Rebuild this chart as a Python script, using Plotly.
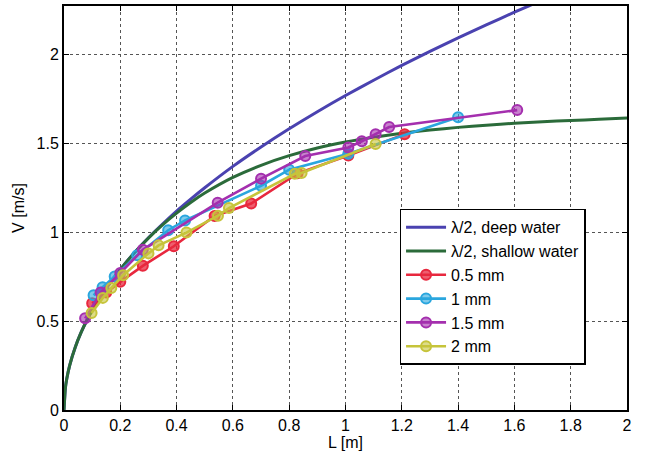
import plotly.graph_objects as go

# Theoretical half-wavelength speed curves
L_theory = [0, 0.005, 0.01, 0.02, 0.04, 0.06, 0.08, 0.1, 0.15, 0.2, 0.25, 0.3, 0.35,
            0.4, 0.45, 0.5, 0.6, 0.7, 0.8, 0.9, 1.0, 1.1, 1.2, 1.3, 1.4, 1.5, 1.6,
            1.7, 1.8, 1.9, 2.0]
V_deep = [0, 0.125, 0.177, 0.250, 0.353, 0.433, 0.500, 0.559, 0.684, 0.790, 0.884,
          0.968, 1.045, 1.118, 1.185, 1.249, 1.369, 1.478, 1.580, 1.676, 1.767,
          1.853, 1.936, 2.015, 2.091, 2.164, 2.235, 2.304, 2.371, 2.436, 2.499]
V_shallow = [0, 0.125, 0.177, 0.250, 0.353, 0.433, 0.500, 0.559, 0.684, 0.790, 0.883,
             0.966, 1.040, 1.106, 1.166, 1.219, 1.307, 1.375, 1.429, 1.472, 1.506,
             1.533, 1.555, 1.573, 1.588, 1.600, 1.611, 1.620, 1.627, 1.633, 1.640]

# Measured speeds for each wire diameter
L_05 = [0.10, 0.15, 0.20, 0.28, 0.39, 0.535, 0.665, 0.83, 1.01, 1.21]
V_05 = [0.60, 0.66, 0.72, 0.81, 0.92, 1.09, 1.16, 1.33, 1.43, 1.55]

L_10 = [0.105, 0.137, 0.18, 0.26, 0.37, 0.43, 0.70, 0.80, 1.01, 1.40]
V_10 = [0.645, 0.69, 0.75, 0.87, 1.01, 1.065, 1.26, 1.35, 1.44, 1.645]

L_15 = [0.075, 0.13, 0.20, 0.28, 0.546, 0.70, 0.857, 1.01, 1.058, 1.107, 1.155, 1.61]
V_15 = [0.515, 0.66, 0.77, 0.90, 1.165, 1.30, 1.427, 1.475, 1.51, 1.55, 1.59, 1.685]

L_20 = [0.098, 0.138, 0.168, 0.21, 0.30, 0.336, 0.435, 0.547, 0.586, 0.82, 0.844, 1.107]
V_20 = [0.545, 0.63, 0.685, 0.757, 0.88, 0.925, 0.997, 1.092, 1.135, 1.327, 1.332, 1.495]

x_ticks = [0, 0.2, 0.4, 0.6, 0.8, 1, 1.2, 1.4, 1.6, 1.8, 2]
x_labels = ["0", "0.2", "0.4", "0.6", "0.8", "1", "1.2", "1.4", "1.6", "1.8", "2"]
y_ticks = [0, 0.5, 1, 1.5, 2]
y_labels = ["0", "0.5", "1", "1.5", "2"]

FONT = "Liberation Sans, Arial, sans-serif"

fig = go.Figure()

fig.add_trace(go.Scatter(
    x=L_theory, y=V_deep, mode="lines", name="λ/2, deep water",
    line=dict(color="#4a42b0", width=3, shape="spline", smoothing=0.6),
))
fig.add_trace(go.Scatter(
    x=L_theory, y=V_shallow, mode="lines", name="λ/2, shallow water",
    line=dict(color="#2b6b3a", width=3, shape="spline", smoothing=0.6),
))

series = [
    ("0.5 mm", L_05, V_05, "#e8283e", "rgba(232,40,62,0.75)"),
    ("1 mm", L_10, V_10, "#2aa6de", "rgba(42,166,222,0.6)"),
    ("1.5 mm", L_15, V_15, "#a42fae", "rgba(164,47,174,0.6)"),
    ("2 mm", L_20, V_20, "#c6c43a", "rgba(198,196,58,0.6)"),
]
for name, xs, ys, col, fill in series:
    fig.add_trace(go.Scatter(
        x=xs, y=ys, mode="lines+markers", name=name,
        line=dict(color=col, width=2.6),
        marker=dict(size=10, color=fill, line=dict(color=col, width=2)),
    ))

axis_common = dict(
    showline=True, linecolor="black", linewidth=2, mirror="ticks",
    ticks="inside", ticklen=5, tickcolor="black", tickwidth=1,
    showgrid=True, gridcolor="#555555", gridwidth=1, griddash="dot",
    zeroline=False,
    tickfont=dict(family=FONT, size=16, color="black"),
)

fig.update_xaxes(
    range=[0, 2], tickvals=x_ticks, ticktext=x_labels,
    title=dict(text="L [m]", font=dict(family=FONT, size=16, color="black"), standoff=4),
    **axis_common,
)
fig.update_yaxes(
    range=[0, 2.27], tickvals=y_ticks, ticktext=y_labels,
    title=dict(text="V [m/s]", font=dict(family=FONT, size=16, color="black"), standoff=8),
    **axis_common,
)

fig.update_layout(
    width=652, height=459,
    margin=dict(l=64, r=25, t=4, b=49),
    paper_bgcolor="white", plot_bgcolor="white",
    showlegend=True,
    legend=dict(
        x=0.596, y=0.498, xanchor="left", yanchor="top",
        bgcolor="white", bordercolor="black", borderwidth=1.5,
        font=dict(family=FONT, size=16, color="black"),
        tracegroupgap=0, itemwidth=40,
    ),
    font=dict(family=FONT, color="black"),
)

fig.write_html("out.html")
